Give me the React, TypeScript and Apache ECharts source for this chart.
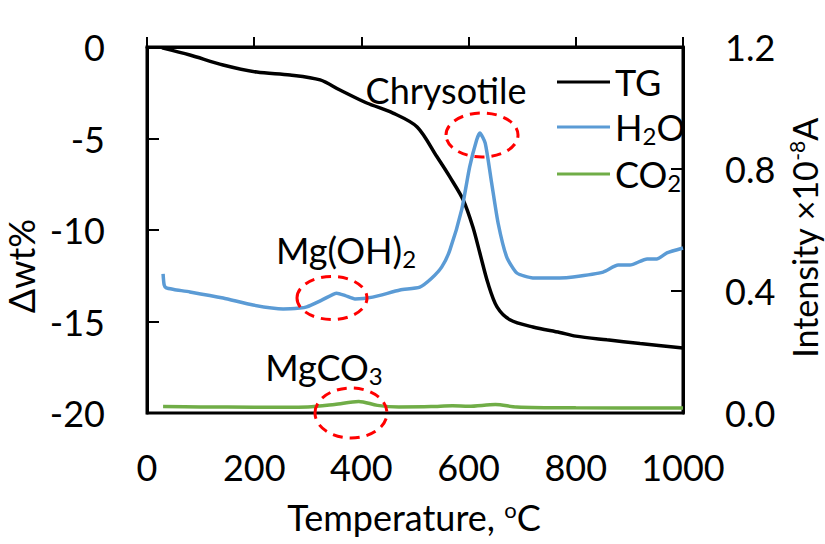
import React, { useEffect, useRef } from "react";
import * as echarts from "echarts";

const tgTemps = [28, 80, 142, 205, 267, 323, 360, 410, 459, 504, 541, 565, 590, 608, 621, 636, 653, 677, 720, 770, 800, 858, 920, 1000];
const tgValues = [-0.05, -0.44, -0.98, -1.37, -1.53, -1.8, -2.35, -3.06, -3.61, -4.37, -6.0, -7.1, -8.36, -9.84, -11.26, -12.9, -14.2, -14.9, -15.3, -15.6, -15.8, -16.0, -16.2, -16.45];

const h2oTemps = [30, 32, 36, 50, 80, 142, 198, 254, 285, 298, 326, 354, 370, 388, 421, 472, 509, 530, 550, 565, 587, 602, 615, 621, 631, 643, 655, 671, 690, 720, 770, 795, 851, 879, 901, 933, 951, 970, 1000];
const h2oValues = [0.456, 0.42, 0.41, 0.405, 0.397, 0.377, 0.354, 0.341, 0.344, 0.348, 0.37, 0.393, 0.385, 0.374, 0.38, 0.403, 0.413, 0.44, 0.479, 0.534, 0.666, 0.807, 0.895, 0.918, 0.885, 0.754, 0.623, 0.512, 0.459, 0.443, 0.443, 0.446, 0.462, 0.485, 0.485, 0.505, 0.505, 0.525, 0.541];

const co2Temps = [30, 100, 200, 300, 350, 395, 430, 470, 530, 570, 600, 650, 690, 800, 1000];
const co2Values = [0.021, 0.02, 0.019, 0.02, 0.028, 0.038, 0.025, 0.02, 0.021, 0.024, 0.022, 0.0275, 0.02, 0.017, 0.016];

const xTicks = { min: 0, max: 1000, interval: 200 };
const leftTicks = { min: -20, max: 0, interval: 5 };
const rightTicks = { min: 0, max: 1.2, interval: 0.4 };

const FONT = "Lato";
const FS = 36;

const zip = (xs: number[], ys: number[]) => xs.map((x, i) => [x, ys[i]]);

export default function App() {
  const ref = useRef<HTMLDivElement>(null);
  useEffect(() => {
    if (!ref.current) return;
    const chart = echarts.init(ref.current, undefined, { renderer: "svg" });
    const baseText = { fontFamily: FONT, fontSize: FS, color: "#000" };
    const rich = {
      a: { fontFamily: FONT, fontSize: FS, color: "#000", lineHeight: 40 },
      s: { fontFamily: FONT, fontSize: 24, color: "#000", lineHeight: 40, padding: [16, 0, 0, 0] },
      p: { fontFamily: FONT, fontSize: 22, color: "#000", lineHeight: 40, padding: [0, 0, 16, 0] },
    };
    const richSmall = {
      a: { fontFamily: FONT, fontSize: 34, color: "#000", lineHeight: 36 },
      p: { fontFamily: FONT, fontSize: 21, color: "#000", lineHeight: 36, padding: [0, 0, 15, 0] },
    };
    const axisLine = { show: true, lineStyle: { color: "#000", width: 3 } };
    chart.setOption({
      animation: false,
      backgroundColor: "#fff",
      grid: { left: 147, right: 142, top: 47, bottom: 131, show: true, borderColor: "#000", borderWidth: 3 },
      xAxis: {
        type: "value",
        ...xTicks,
        axisLine,
        axisTick: { show: true, inside: true, length: 10, lineStyle: { color: "#000", width: 2 } },
        axisLabel: { ...baseText, margin: 36, formatter: (v: number) => String(v) },
        splitLine: { show: false },
      },
      yAxis: [
        {
          type: "value",
          ...leftTicks,
          axisLine,
          axisTick: { show: true, inside: true, length: 12, lineStyle: { color: "#000", width: 2 } },
          axisLabel: { ...baseText, margin: 42 },
          splitLine: { show: false },
        },
        {
          type: "value",
          position: "right",
          ...rightTicks,
          axisLine,
          axisTick: { show: true, inside: true, length: 12, lineStyle: { color: "#000", width: 2 } },
          axisLabel: { ...baseText, margin: 42, formatter: (v: number) => v.toFixed(1) },
          splitLine: { show: false },
        },
      ],
      legend: {
        orient: "vertical",
        left: 552,
        top: 59,
        itemWidth: 53,
        itemHeight: 3,
        itemGap: 7,
        icon: "rect",
        textStyle: { ...baseText, rich },
        formatter: (name: string) => {
          if (name === "H2O") return "{a|H}{s|2}{a|O}";
          if (name === "CO2") return "{a|CO}{s|2}";
          return "{a|" + name + "}";
        },
        data: ["TG", "H2O", "CO2"],
      },
      series: [
        {
          name: "TG",
          type: "line",
          yAxisIndex: 0,
          data: zip(tgTemps, tgValues),
          smooth: 0.3,
          symbol: "none",
          lineStyle: { color: "#000", width: 3.5 },
          itemStyle: { color: "#000" },
        },
        {
          name: "H2O",
          type: "line",
          yAxisIndex: 1,
          data: zip(h2oTemps, h2oValues),
          smooth: 0.2,
          symbol: "none",
          lineStyle: { color: "#5b9bd5", width: 3.5 },
          itemStyle: { color: "#5b9bd5" },
        },
        {
          name: "CO2",
          type: "line",
          yAxisIndex: 1,
          data: zip(co2Temps, co2Values),
          smooth: 0.3,
          symbol: "none",
          lineStyle: { color: "#70ad47", width: 3.5 },
          itemStyle: { color: "#70ad47" },
        },
      ],
      graphic: [
        {
          type: "ellipse",
          shape: { cx: 482, cy: 135, rx: 36, ry: 22 },
          style: { fill: "none", stroke: "#ff0000", lineWidth: 3, lineDash: [10, 7] },
          z: 100,
        },
        {
          type: "ellipse",
          shape: { cx: 332, cy: 298, rx: 35, ry: 21.5 },
          style: { fill: "none", stroke: "#ff0000", lineWidth: 3, lineDash: [10, 7] },
          z: 100,
        },
        {
          type: "ellipse",
          shape: { cx: 351, cy: 413, rx: 36, ry: 25 },
          style: { fill: "none", stroke: "#ff0000", lineWidth: 3, lineDash: [10, 7] },
          z: 100,
        },
        {
          type: "text",
          x: 446,
          y: 90,
          z: 100,
          style: { text: "{a|Chrysotile}", rich, align: "center", verticalAlign: "middle" },
        },
        {
          type: "text",
          x: 346,
          y: 250,
          z: 100,
          style: { text: "{a|Mg(OH)}{s|2}", rich, align: "center", verticalAlign: "middle" },
        },
        {
          type: "text",
          x: 324,
          y: 367,
          z: 100,
          style: { text: "{a|MgCO}{s|3}", rich, align: "center", verticalAlign: "middle" },
        },
        {
          type: "text",
          x: 414,
          y: 517,
          z: 100,
          style: { text: "{a|Temperature, }{p|o}{a|C}", rich, align: "center", verticalAlign: "middle" },
        },
        {
          type: "text",
          x: 21,
          y: 266,
          rotation: Math.PI / 2,
          z: 100,
          style: { text: "{a|Δwt%}", rich, align: "center", verticalAlign: "middle" },
        },
        {
          type: "text",
          x: 804,
          y: 238,
          rotation: Math.PI / 2,
          z: 100,
          style: { text: "{a|Intensity ×10}{p|-8}{a|A}", rich: richSmall, align: "center", verticalAlign: "middle" },
        },
      ],
    });
    return () => chart.dispose();
  }, []);
  return <div ref={ref} style={{ position: "fixed", left: 0, top: 0, width: 825, height: 544 }} />;
}
